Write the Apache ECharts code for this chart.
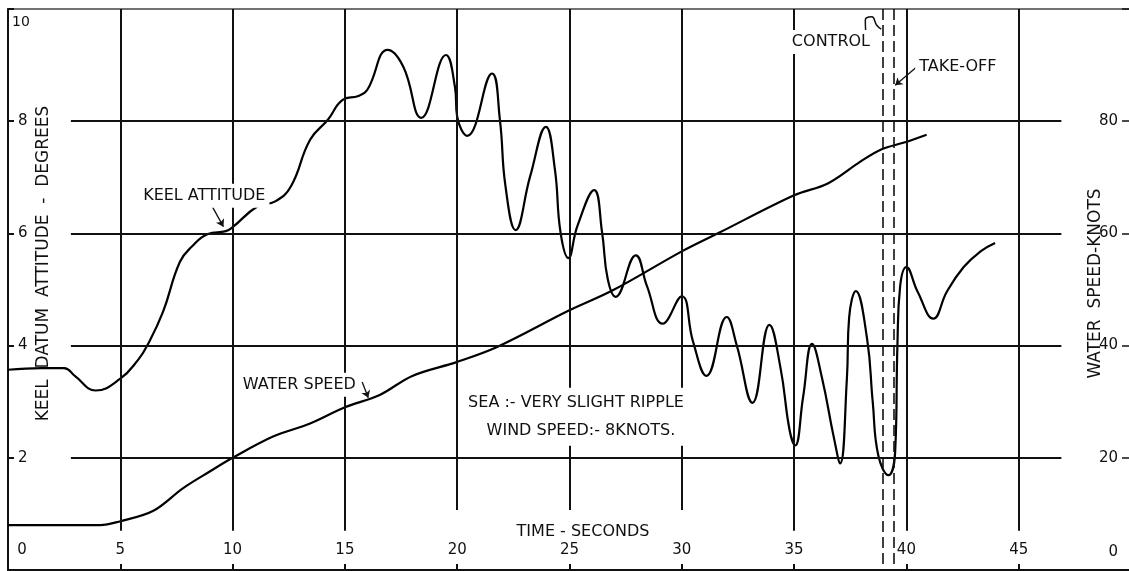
<!DOCTYPE html>
<html><head><meta charset="utf-8">
<script src="https://cdn.jsdelivr.net/npm/echarts@6/dist/echarts.min.js"></script>
<style>html,body{margin:0;padding:0;background:#fff}#c{width:1129px;height:571px}</style>
</head><body><div id="c"></div>
<script>
// ---- data ----
const keelTime = [0,1.5,2.5,3.0,3.9,5.0,5.8,6.2,6.9,7.65,8.2,8.9,9.7,10,11.1,11.9,12.6,13.45,14.25,14.9,15.6,16.0,16.9,17.6,18.4,19.5,19.9,20.0,20.45,21.55,21.9,22.15,22.6,23.25,23.95,24.35,24.6,24.95,25.35,26.1,26.45,26.7,27.05,27.95,28.45,29.15,30.0,30.5,31.1,32.0,32.45,33.15,33.9,34.4,34.8,35.05,35.4,35.8,36.25,36.75,37.05,37.35,37.45,37.75,38.25,38.5,38.75,39.2,39.5,39.6,39.72,40.0,40.5,41.2,41.8,42.55,43.3,43.95];
const keelAttitude = [3.57,3.6,3.6,3.45,3.2,3.41,3.75,4.0,4.6,5.49,5.77,5.99,6.04,6.11,6.48,6.57,6.84,7.67,8.03,8.38,8.45,8.56,9.27,8.97,8.06,9.18,8.61,8.08,7.74,8.85,8.03,6.84,6.06,7.02,7.9,7.14,6.02,5.56,6.13,6.77,6.02,5.19,4.87,5.61,5.06,4.39,4.88,4.07,3.46,4.51,4.0,2.98,4.37,3.59,2.49,2.22,3.08,4.03,3.41,2.40,1.90,3.41,4.5,4.97,4.12,3.0,2.04,1.69,2.11,4.0,5.05,5.40,4.96,4.48,4.96,5.40,5.68,5.83];
const speedTime = [0,2,4.1,5.0,6.45,7.8,9.0,10,11.8,13.45,15.0,16.55,18.0,20.0,21.8,24.95,26.95,30.0,31.7,35.0,36.5,37.95,38.9,39.9,40.9];
const waterSpeed = [8.0,8.0,8.0,8.7,10.5,14.6,17.6,20.0,23.8,26.1,29.0,31.2,34.6,37.1,39.8,46.2,49.9,56.8,60.2,66.8,68.9,72.8,75.0,76.2,77.6];
const timeTickLabels = ['0','5','10','15','20','25','30','35','40','45'];
const attitudeTickLabels = ['2','4','6','8','10'];
const speedTickLabels = ['0','20','40','60','80'];
const controlTime = 38.95;
const takeOffTime = 39.45;
const gridTimes = [5,10,15,20,25,30,35,40,45];
const gridAttitudes = [2,4,6,8];

// ---- styling ----
const FONT = 'DejaVu Sans';
const INK = '#111';
const txt = (s) => ({fontFamily: FONT, fontSize: s, color: INK});

const keelData = keelTime.map((t, i) => [t, keelAttitude[i]]);
const speedData = speedTime.map((t, i) => [t, waterSpeed[i]]);

const vLines = gridTimes.map(t => [{coord: [t, 10]}, {coord: [t, (t >= 20 && t <= 30) ? 1.07 : 0.7]}]);
const hLines = gridAttitudes.map(v => [{coord: [2.8, v]}, {coord: [46.9, v]}]);
const dashLines = [controlTime, takeOffTime].map(t => [{coord: [t, 10]}, {coord: [t, 0]}]);

const notes = [
  {name: 'KEEL ATTITUDE', coord: [8.74, 6.67]},
  {name: 'WATER SPEED', coord: [12.97, 3.30]},
  {name: 'SEA :- VERY SLIGHT RIPPLE', coord: [25.29, 2.98], label: {padding: [7, 8, 7, 8]}},
  {name: 'WIND SPEED:- 8KNOTS.', coord: [25.6, 2.48], label: {padding: [7, 12, 7, 8]}},
  {name: 'CONTROL', coord: [36.64, 9.41]},
  {name: 'TAKE-OFF', coord: [42.29, 8.97]}
];
const leaders = [
  [{coord: [9.01, 6.54]}, {coord: [9.59, 6.12]}],
  [{coord: [15.77, 3.35]}, {coord: [16.04, 3.07]}],
  [{coord: [40.73, 9.06]}, {coord: [39.5, 8.64]}]
];
const controlSquiggle = [[38.19, 9.59], [38.17, 9.80], [38.46, 9.86], [38.68, 9.71], [38.88, 9.64]];

const chart = echarts.init(document.getElementById('c'), null, {renderer: 'canvas'});
chart.setOption({
  animation: false,
  backgroundColor: '#fff',
  grid: {left: 8, top: 9, width: 1123, height: 561, show: true, borderColor: '#444', borderWidth: 1.5,
         containLabel: false, outerBoundsMode: 'none'},
  xAxis: {
    type: 'value', min: 0, max: 50, interval: 5,
    axisLine: {show: true, lineStyle: {color: INK, width: 2}},
    axisTick: {show: true, inside: true, length: 6, lineStyle: {color: INK, width: 2}},
    splitLine: {show: false},
    axisLabel: {
      inside: true, margin: 12, showMinLabel: true, showMaxLabel: true, hideOverlap: false,
      ...txt(15),
      formatter: v => {
        const i = timeTickLabels.indexOf(String(v));
        if (i < 0) return '';
        return v === 0 ? '{z|' + timeTickLabels[i] + '}' : timeTickLabels[i];
      },
      rich: {z: {...txt(15), padding: [0, 0, 0, 28]}}
    },
    name: 'TIME - SECONDS', nameLocation: 'middle', nameGap: -46, nameMoveOverlap: false,
    nameTextStyle: {...txt(16), padding: [0, 0, 0, 27]}
  },
  yAxis: [{
    type: 'value', min: 0, max: 10, interval: 2, position: 'left',
    axisLine: {show: true, lineStyle: {color: INK, width: 2}},
    axisTick: {show: true, inside: true, length: 6, lineStyle: {color: INK, width: 2}},
    splitLine: {show: false},
    axisLabel: {
      inside: true, margin: 4, showMaxLabel: true, ...txt(15),
      formatter: v => {
        const s = String(v);
        if (attitudeTickLabels.indexOf(s) < 0) return '';
        return v === 10 ? '{t|' + s + '}' : '{n|' + s + '}';
      },
      rich: {t: {...txt(14), padding: [26, 0, 0, 0]}, n: {...txt(15), padding: [0, 0, 0, 6]}}
    },
    name: 'KEEL  DATUM  ATTITUDE  -  DEGREES', nameLocation: 'middle', nameGap: -44, nameRotate: 90,
    nameMoveOverlap: false, nameTextStyle: {...txt(17), padding: [0, 0, 0, 52]}
  }, {
    type: 'value', min: 0, max: 100, interval: 20, position: 'right',
    axisLine: {show: false},
    axisTick: {show: true, inside: true, length: 9, lineStyle: {color: INK, width: 1.5}},
    splitLine: {show: false},
    axisLabel: {
      inside: true, margin: 13, showMinLabel: true, ...txt(15),
      formatter: v => {
        const s = String(v);
        if (speedTickLabels.indexOf(s) < 0) return '';
        return v === 0 ? '{z|' + s + '}' : s;
      },
      rich: {z: {...txt(15), padding: [0, 0, 36, 0]}}
    },
    name: 'WATER  SPEED-KNOTS', nameLocation: 'middle', nameGap: -44, nameRotate: 90,
    nameMoveOverlap: false, nameTextStyle: {...txt(17), padding: [0, 0, 0, 12]}
  }],
  series: [
    {
      type: 'line', name: 'grid', data: [], z: 1, silent: true,
      markLine: {
        silent: true, symbol: ['none', 'none'], label: {show: false},
        lineStyle: {color: INK, width: 2, type: 'solid'},
        data: vLines.concat(hLines)
      }
    },
    {
      type: 'line', name: 'dashes', data: [], z: 1, silent: true,
      markLine: {
        silent: true, symbol: ['none', 'none'], label: {show: false},
        lineStyle: {color: INK, width: 1.6, type: [11, 5]},
        data: dashLines
      }
    },
    {
      type: 'line', name: 'notes', data: [], z: 2, silent: true,
      markLine: {
        silent: true, symbol: ['none', 'arrow'], symbolSize: 7, label: {show: false},
        lineStyle: {color: INK, width: 1.3, type: 'solid'},
        data: leaders
      },
      markPoint: {
        silent: true, symbol: 'circle', symbolSize: 0,
        label: {show: true, position: 'inside', formatter: p => p.name, ...txt(16),
                backgroundColor: '#fff', padding: [4, 4]},
        data: notes
      }
    },
    {
      type: 'line', name: 'Keel attitude', data: keelData, yAxisIndex: 0,
      smooth: 0.45, showSymbol: false, z: 3,
      lineStyle: {color: '#000', width: 2.2}
    },
    {
      type: 'line', name: 'Water speed', data: speedData, yAxisIndex: 1,
      smooth: 0.35, showSymbol: false, z: 3,
      lineStyle: {color: '#000', width: 2.2}
    },
    {
      type: 'line', name: 'control leader', data: controlSquiggle, smooth: 0.5,
      showSymbol: false, z: 4, lineStyle: {color: INK, width: 1.5}
    }
  ]
});
</script></body></html>
